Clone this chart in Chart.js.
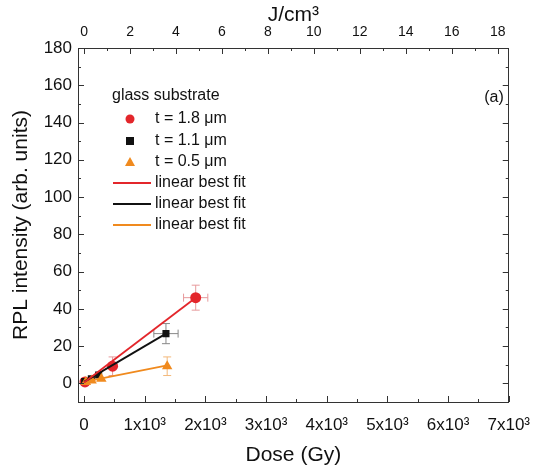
<!DOCTYPE html>
<html>
<head>
<meta charset="utf-8">
<script src="https://cdn.jsdelivr.net/npm/chart.js@4/dist/chart.umd.min.js"></script>
<style>
  html, body { margin: 0; padding: 0; background: #fff; }
</style>
</head>
<body>
<canvas id="chart" width="543" height="470"></canvas>
<script>
// ##################### DATA #############################################
const redDose = [15, 470, 1840]
const redRpl = [0.8, 9.2, 46]
const redDoseErr = [0, 0, 200]
const redRplErr = [0, 5, 6.7]

const blackDose = [10, 120, 240, 1350]
const blackRpl = [1, 2.5, 4.5, 26.7]
const blackDoseErr = [0, 0, 0, 200]
const blackRplErr = [0, 0, 0, 5.4]

const orangeDose = [30, 125, 285, 1370]
const orangeRpl = [0.8, 1.6, 2.5, 9.2]
const orangeDoseErr = [0, 0, 0, 0]
const orangeRplErr = [0, 0, 0, 5]

// linear best fits, start and end
const redFitDose = [0, 1840]
const redFitRpl = [0.5, 46]
const blackFitDose = [0, 1350]
const blackFitRpl = [0.8, 26.7]
const orangeFitDose = [0, 1370]
const orangeFitRpl = [0.8, 9.6]

const legendLabels = ['t = 1.8 \u03bcm', 't = 1.1 \u03bcm', 't = 0.5 \u03bcm',
    'linear best fit', 'linear best fit', 'linear best fit']

const RED = '#e3262b'
const BLACK = '#111111'
const ORANGE = '#f08a1e'
const FONT = "'Liberation Sans', Arial, sans-serif"
const AXIS = '#333333'

const pts = (xs, ys) => xs.map((x, i) => ({x: x, y: ys[i]}))

// ##################### PLUGINS #######################
const errorBars = {
    id: 'errorBars',
    beforeDatasetsDraw(chart) {
        const ctx = chart.ctx
        const xs = chart.scales.x, ys = chart.scales.y
        const sets = [
            [redDose, redRpl, redDoseErr, redRplErr, '#e79a9c'],
            [blackDose, blackRpl, blackDoseErr, blackRplErr, '#888888'],
            [orangeDose, orangeRpl, orangeDoseErr, orangeRplErr, '#f3b87a'],
        ]
        ctx.save()
        ctx.lineWidth = 1
        sets.forEach(([dx, dy, ex, ey, col]) => {
            ctx.strokeStyle = col
            dx.forEach((x, i) => {
                const px = xs.getPixelForValue(x), py = ys.getPixelForValue(dy[i])
                if (ey[i] > 0) {
                    const y1 = ys.getPixelForValue(dy[i] + ey[i]), y2 = ys.getPixelForValue(dy[i] - ey[i])
                    ctx.beginPath()
                    ctx.moveTo(px, y1); ctx.lineTo(px, y2)
                    ctx.moveTo(px - 4, y1); ctx.lineTo(px + 4, y1)
                    ctx.moveTo(px - 4, y2); ctx.lineTo(px + 4, y2)
                    ctx.stroke()
                }
                if (ex[i] > 0) {
                    const x1 = xs.getPixelForValue(x - ex[i]), x2 = xs.getPixelForValue(x + ex[i])
                    ctx.beginPath()
                    ctx.moveTo(x1, py); ctx.lineTo(x2, py)
                    ctx.moveTo(x1, py - 4); ctx.lineTo(x1, py + 4)
                    ctx.moveTo(x2, py - 4); ctx.lineTo(x2, py + 4)
                    ctx.stroke()
                }
            })
        })
        ctx.restore()
    }
}

const frameTicks = {
    id: 'frameTicks',
    afterDraw(chart) {
        const ctx = chart.ctx
        const a = chart.chartArea
        const s = chart.scales
        ctx.save()
        ctx.strokeStyle = AXIS
        ctx.lineWidth = 1
        ctx.beginPath()
        s.x.ticks.forEach(t => {
            const p = Math.round(s.x.getPixelForValue(t.value)) + 0.5
            const len = t.value % 1000 === 0 ? 6 : 3
            ctx.moveTo(p, a.bottom); ctx.lineTo(p, a.bottom - len)
        })
        s.x2.ticks.forEach(t => {
            const p = Math.round(s.x2.getPixelForValue(t.value)) + 0.5
            const len = Math.round(t.value) % 2 === 0 ? 6 : 3
            ctx.moveTo(p, a.top); ctx.lineTo(p, a.top + len)
        })
        s.y.ticks.forEach(t => {
            const p = Math.round(s.y.getPixelForValue(t.value)) + 0.5
            const len = t.value % 20 === 0 ? 6 : 3
            ctx.moveTo(a.left, p); ctx.lineTo(a.left + len, p)
            ctx.moveTo(a.right, p); ctx.lineTo(a.right - len, p)
        })
        ctx.stroke()

        // legend inside the plot
        ctx.textBaseline = 'middle'
        ctx.textAlign = 'left'
        ctx.fillStyle = '#111'
        ctx.font = '16px ' + FONT
        ctx.fillText('glass substrate', 112, 96)
        const rows = [119, 141, 162, 183, 204, 225]
        ctx.fillStyle = RED
        ctx.beginPath(); ctx.arc(130, rows[0], 4.5, 0, Math.PI * 2); ctx.fill()
        ctx.fillStyle = BLACK
        ctx.fillRect(126, rows[1] - 4, 8, 8)
        ctx.fillStyle = ORANGE
        ctx.beginPath()
        ctx.moveTo(130, rows[2] - 5); ctx.lineTo(135, rows[2] + 4); ctx.lineTo(125, rows[2] + 4)
        ctx.closePath(); ctx.fill()
        ;[RED, BLACK, ORANGE].forEach((c, i) => {
            ctx.strokeStyle = c
            ctx.lineWidth = 2
            ctx.beginPath(); ctx.moveTo(113, rows[3 + i]); ctx.lineTo(151, rows[3 + i]); ctx.stroke()
        })
        ctx.fillStyle = '#111'
        legendLabels.forEach((l, i) => ctx.fillText(l, 155, rows[i]))
        ctx.textAlign = 'center'
        ctx.fillText('(a)', 494, 98)
        ctx.restore()
    }
}

// ##################### CHART #######################
const tickFont = {family: FONT, size: 17}
const titleFont = {family: FONT, size: 21}
const border = {display: true, color: AXIS, width: 1}

const ctx = document.getElementById('chart')
const rplChart = new Chart(ctx, {
    type: 'scatter',
    data: {
        datasets: [
            {data: pts(redFitDose, redFitRpl), showLine: true, borderColor: RED, borderWidth: 1.8, pointRadius: 0},
            {data: pts(blackFitDose, blackFitRpl), showLine: true, borderColor: BLACK, borderWidth: 1.8, pointRadius: 0},
            {data: pts(orangeFitDose, orangeFitRpl), showLine: true, borderColor: ORANGE, borderWidth: 1.8, pointRadius: 0},
            {data: pts(orangeDose, orangeRpl), pointStyle: 'triangle', pointRadius: 6,
                backgroundColor: ORANGE, borderColor: ORANGE, borderWidth: 0},
            {data: pts(blackDose, blackRpl), pointStyle: 'rect', pointRadius: 5,
                backgroundColor: BLACK, borderColor: BLACK, borderWidth: 0},
            {data: pts(redDose, redRpl), pointStyle: 'circle', pointRadius: 5.5,
                backgroundColor: RED, borderColor: RED, borderWidth: 0},
        ]
    },
    options: {
        responsive: false,
        animation: false,
        layout: {padding: 0},
        plugins: {legend: {display: false}, tooltip: {enabled: false}},
        scales: {
            x: {
                type: 'linear', position: 'bottom', min: -100, max: 7000,
                afterBuildTicks: s => { s.ticks = []; for (let v = 0; v <= 7000; v += 500) s.ticks.push({value: v}) },
                afterFit: s => { s.height = 68 },
                grid: {display: false, drawTicks: false},
                border: border,
                ticks: {
                    font: tickFont, color: '#111', padding: 13, autoSkip: false, maxRotation: 0,
                    callback: v => v === 0 ? '0' : (v % 1000 === 0 ? (v / 1000) + 'x10\u00b3' : '')
                },
                title: {display: true, text: 'Dose (Gy)', font: titleFont, color: '#111', padding: {top: 0, bottom: 2}}
            },
            x2: {
                type: 'linear', position: 'top', min: -0.264, max: 18.48,
                afterBuildTicks: s => { s.ticks = []; for (let v = 0; v <= 18; v += 1) s.ticks.push({value: v}) },
                afterFit: s => { s.height = 48 },
                grid: {display: false, drawTicks: false},
                border: border,
                ticks: {
                    font: {family: FONT, size: 14}, color: '#111', padding: 7, autoSkip: false, maxRotation: 0,
                    callback: v => v % 2 === 0 ? String(v) : ''
                },
                title: {display: true, text: 'J/cm\u00b3', font: titleFont, color: '#111', padding: {top: 3, bottom: 0}}
            },
            y: {
                type: 'linear', position: 'left', min: -10, max: 180,
                afterBuildTicks: s => { s.ticks = []; for (let v = 0; v <= 180; v += 10) s.ticks.push({value: v}) },
                afterFit: s => { s.width = 78 },
                grid: {display: false, drawTicks: false},
                border: border,
                ticks: {
                    font: tickFont, color: '#111', padding: 6, autoSkip: false,
                    callback: v => v % 20 === 0 ? String(v) : ''
                },
                title: {display: true, text: 'RPL intensity (arb. units)', font: titleFont, color: '#111', padding: {top: 9, bottom: 0}}
            },
            y2: {
                type: 'linear', position: 'right', min: -10, max: 180,
                afterFit: s => { s.width = 25 },
                grid: {display: false, drawTicks: false},
                border: border,
                ticks: {display: false}
            }
        }
    },
    plugins: [errorBars, frameTicks]
});
</script>
</body>
</html>
